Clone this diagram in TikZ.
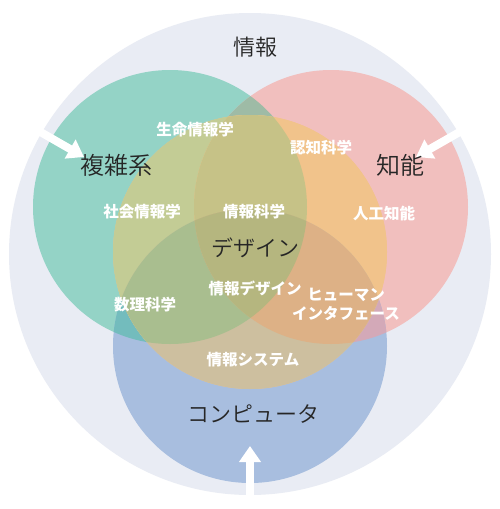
\documentclass[tikz,border=0pt]{standalone}
\usepackage{fontspec}
\setmainfont{Noto Sans CJK JP}
\newfontfamily\jplight{Noto Sans CJK JP DemiLight}
\usetikzlibrary{arrows.meta}
\definecolor{outerc}{HTML}{E9ECF4}
\definecolor{tealc}{HTML}{94D3C6}
\definecolor{pinkc}{HTML}{F1BFBE}
\definecolor{bluec}{HTML}{A8BEDF}
\definecolor{tpc}{HTML}{9EBBA6}
\definecolor{tbc}{HTML}{73BCBD}
\definecolor{pbc}{HTML}{D3A9B8}
\definecolor{tyc}{HTML}{C3CC95}
\definecolor{pyc}{HTML}{F1C38B}
\definecolor{byc}{HTML}{CDBF9F}
\definecolor{typc}{HTML}{C6C287}
\definecolor{tbyc}{HTML}{A9BE8F}
\definecolor{pbyc}{HTML}{DDB186}
\definecolor{allc}{HTML}{B5B67F}
\definecolor{darktext}{HTML}{262626}
\newcommand\CircO{(250,254) circle[radius=241]}
\newcommand\CircT{(170,207) circle[radius=137]}
\newcommand\CircP{(331,207) circle[radius=137]}
\newcommand\CircB{(250,346) circle[radius=137]}
\newcommand\CircY{(250,252) circle[radius=137]}
\tikzset{
  bigtext/.style={inner sep=0pt, text=darktext, font=\jplight\fontsize{22}{24}\selectfont},
  smalltext/.style={inner sep=0pt, text=white, font=\bfseries\fontsize{15.5}{18}\selectfont},
  whitearrow/.style={draw=white, line width=8pt, -{Triangle[length=16pt,width=21pt]}}
}
\begin{document}
\begin{tikzpicture}[x=1pt,y=-1pt]
\useasboundingbox (0,0) rectangle (500,509);
\fill[white] (0,0) rectangle (500,509);
\fill[outerc] \CircO;
\fill[tealc] \CircT;
\fill[pinkc] \CircP;
\fill[bluec] \CircB;
\begin{scope}\clip \CircT; \fill[tpc] \CircP; \end{scope}
\begin{scope}\clip \CircT; \fill[tbc] \CircB; \end{scope}
\begin{scope}\clip \CircP; \fill[pbc] \CircB; \end{scope}
\fill[pyc] \CircY;
\begin{scope}\clip \CircY; \fill[tyc] \CircT; \end{scope}
\begin{scope}\clip \CircY; \fill[pyc] \CircP; \end{scope}
\begin{scope}\clip \CircY; \fill[byc] \CircB; \end{scope}
\begin{scope}\clip \CircY; \clip \CircT; \fill[typc] \CircP; \end{scope}
\begin{scope}\clip \CircY; \clip \CircT; \fill[tbyc] \CircB; \end{scope}
\begin{scope}\clip \CircY; \clip \CircP; \fill[pbyc] \CircB; \end{scope}
\begin{scope}\clip \CircY; \clip \CircT; \clip \CircP; \fill[allc] \CircB; \end{scope}

% arrows
\coordinate (la0) at (30,126);
\coordinate (la1) at (84,157);
\coordinate (ra0) at (470,126);
\coordinate (ra1) at (416,157);
\coordinate (ba0) at (250,500);
\coordinate (ba1) at (250,446);
\draw[whitearrow] (la0) -- (la1);
\draw[whitearrow] (ra0) -- (ra1);
\draw[whitearrow] (ba0) -- (ba1);
\fill[white] (0,496) rectangle (500,509);

% big labels
\node[bigtext] (joho) at (255,47) {情報};
\node[bigtext, font=\jplight\fontsize{24}{26}\selectfont] (fukuzatsu) at (116,165) {複雑系};
\node[bigtext, font=\jplight\fontsize{24}{26}\selectfont] (chino) at (400,165) {知能};
\node[bigtext] (design) at (255,248) {デザイン};
\node[bigtext] (computer) at (253,414) {コンピュータ};

% small labels
\node[smalltext] (seimei) at (195,130) {生命情報学};
\node[smalltext] (ninchi) at (321,148) {認知科学};
\node[smalltext] (shakai) at (142,212) {社会情報学};
\node[smalltext] (johokagaku) at (254,212) {情報科学};
\node[smalltext] (jinko) at (384,214) {人工知能};
\node[smalltext] (suri) at (145,305) {数理科学};
\node[smalltext] (johodesign) at (255,288) {情報デザイン};
\node[smalltext] (human) at (346,295) {ヒューマン};
\node[smalltext] (interface) at (346,314) {インタフェース};
\node[smalltext] (system) at (253,360) {情報システム};
\end{tikzpicture}
\end{document}
